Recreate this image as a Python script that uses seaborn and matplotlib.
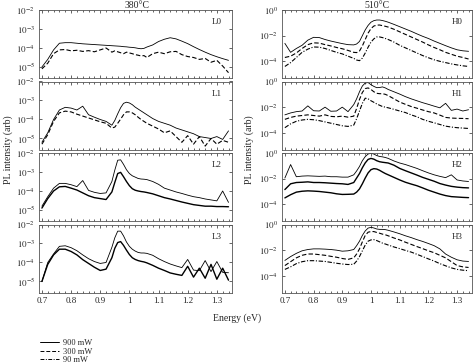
import matplotlib
matplotlib.use("Agg")
import matplotlib.pyplot as plt
import seaborn as sns
import numpy as np
from matplotlib.ticker import FixedLocator, MultipleLocator, NullLocator, FixedFormatter
from matplotlib.lines import Line2D

sns.set_style("ticks")
plt.rcParams["font.family"] = ["Liberation Serif", "DejaVu Serif"]
plt.rcParams["mathtext.fontset"] = "stix"

# photon energy grid (eV), denser around the main peak
energy = [0.70, 0.72, 0.74, 0.76, 0.78, 0.80, 0.82, 0.84, 0.86, 0.88, 0.90, 0.92, 0.94,
          0.95, 0.96, 0.97, 0.98, 0.99, 1.00, 1.01, 1.02, 1.03, 1.04, 1.05, 1.06,
          1.08, 1.10, 1.12, 1.14, 1.16, 1.18, 1.20, 1.22, 1.24, 1.26, 1.28, 1.30, 1.32, 1.34]

# log10 PL intensity, 380 C samples
L0_900 = [-5.0, -4.6, -4.1, -3.75, -3.72, -3.72, -3.75, -3.78, -3.8, -3.82, -3.84, -3.86, -3.88,
          -3.89, -3.9, -3.91, -3.93, -3.94, -3.96, -3.97, -3.99, -4.02, -4.04, -4.02, -3.95,
          -3.84, -3.66, -3.54, -3.46, -3.52, -3.64, -3.77, -3.93, -4.08, -4.22, -4.35, -4.46, -4.56, -4.65]
L0_300 = [-5.1, -4.8, -4.3, -4.1, -4.08, -4.15, -4.12, -4.18, -4.14, -4.2, -4.1, -4.0, -4.22,
          -4.15, -4.2, -4.25, -4.3, -4.22, -4.26, -4.3, -4.35, -4.38, -4.42, -4.4, -4.5,
          -4.3, -4.22, -4.3, -4.2, -4.18, -4.35, -4.45, -4.5, -4.6, -4.55, -4.75, -4.65, -4.95, -5.3]
L1_900 = [-5.2, -4.7, -4.0, -3.5, -3.36, -3.4, -3.5, -3.3, -3.75, -3.88, -4.0, -4.1, -4.3,
          -4.05, -3.7, -3.38, -3.15, -3.09, -3.13, -3.22, -3.35, -3.45, -3.55, -3.65, -3.75,
          -3.95, -4.1, -4.2, -4.3, -4.45, -4.55, -4.65, -4.75, -4.9, -4.95, -5.0, -4.9, -5.05, -4.6]
L1_300 = [-5.3, -4.8, -4.1, -3.65, -3.56, -3.6, -3.72, -3.82, -3.92, -4.02, -4.12, -4.2, -4.45,
          -4.4, -4.2, -3.98, -3.75, -3.6, -3.6, -3.65, -3.75, -3.88, -4.0, -4.1, -4.2,
          -4.35, -4.5, -4.7, -4.6, -4.9, -5.2, -4.85, -5.3, -4.9, -5.4, -5.0, -5.3, -5.1, -5.2]
L2_900 = [-4.8, -4.3, -3.85, -3.6, -3.6, -3.67, -3.77, -3.45, -3.97, -4.07, -4.13, -4.1, -3.5,
          -2.9, -2.38, -2.36, -2.6, -2.88, -3.08, -3.2, -3.27, -3.34, -3.37, -3.38, -3.4,
          -3.5, -3.65, -3.85, -3.95, -4.05, -4.13, -4.22, -4.3, -4.35, -4.42, -4.47, -4.52, -4.0, -4.6]
L2_300 = [-4.9, -4.4, -4.0, -3.78, -3.76, -3.85, -3.95, -4.1, -4.25, -4.35, -4.4, -4.45, -4.05,
          -3.55, -3.08, -3.02, -3.25, -3.5, -3.72, -3.88, -3.96, -4.0, -4.03, -4.05, -4.08,
          -4.15, -4.25, -4.35, -4.42, -4.5, -4.58, -4.65, -4.72, -4.76, -4.8, -4.8, -4.82, -4.82, -4.83]
L3_900 = [-5.0, -4.0, -3.55, -3.15, -3.12, -3.22, -3.38, -3.6, -3.8, -3.95, -4.05, -4.0, -3.2,
          -2.7, -2.35, -2.35, -2.6, -2.92, -3.15, -3.3, -3.4, -3.47, -3.5, -3.5, -3.52,
          -3.62, -3.8, -3.95, -4.08, -4.18, -4.27, -3.84, -4.4, -4.43, -3.9, -4.48, -3.95, -4.52, -4.54]
L3_300 = [-5.0, -4.1, -3.6, -3.3, -3.3, -3.42, -3.6, -3.85, -4.05, -4.25, -4.42, -4.35, -3.75,
          -3.25, -2.95, -2.9, -3.1, -3.35, -3.58, -3.75, -3.84, -3.9, -3.94, -3.97, -4.02,
          -4.15, -4.3, -4.42, -4.55, -4.62, -4.68, -4.2, -4.77, -4.3, -4.83, -4.1, -4.88, -4.3, -4.93]

# log10 PL intensity, 510 C samples
H0_900 = [-2.6, -3.3, -3.0, -2.75, -2.35, -2.13, -2.15, -2.3, -2.42, -2.52, -2.62, -2.7, -2.72,
          -2.65, -2.45, -2.0, -1.55, -1.2, -0.95, -0.83, -0.78, -0.78, -0.82, -0.88, -0.95,
          -1.12, -1.3, -1.48, -1.66, -1.86, -2.05, -2.22, -2.42, -2.6, -2.78, -2.95, -3.1, -3.18, -3.22]
H0_300 = [-3.7, -3.6, -3.35, -3.0, -2.7, -2.56, -2.58, -2.7, -2.8, -2.92, -3.02, -3.15, -3.3,
          -3.32, -3.2, -2.8, -2.3, -1.8, -1.45, -1.25, -1.18, -1.17, -1.22, -1.27, -1.33,
          -1.5, -1.7, -1.9, -2.1, -2.3, -2.5, -2.72, -2.92, -3.1, -3.3, -3.45, -3.6, -3.7, -3.82]
H0_90 = [-4.4, -4.1, -3.7, -3.3, -3.05, -2.88, -2.9, -3.0, -3.15, -3.3, -3.42, -3.6, -3.77,
         -3.9, -3.95, -3.75, -3.35, -2.9, -2.5, -2.25, -2.1, -2.1, -2.15, -2.22, -2.3,
         -2.5, -2.75, -2.95, -3.15, -3.35, -3.55, -3.72, -3.88, -4.0, -4.1, -4.2, -4.28, -4.35, -4.4]
H1_900 = [-2.6, -2.45, -2.35, -2.3, -1.9, -2.28, -2.3, -2.0, -2.32, -2.3, -2.0, -2.35, -1.8,
          -1.35, -0.8, -0.35, -0.12, -0.08, -0.25, -0.38, -0.48, -0.47, -0.42, -0.5, -0.62,
          -0.8, -0.98, -1.18, -1.35, -1.5, -1.65, -1.78, -1.92, -2.05, -1.7, -2.25, -2.15, -2.3, -2.2]
H1_300 = [-2.95, -2.8, -2.7, -2.65, -2.6, -2.65, -2.7, -2.6, -2.72, -2.75, -2.7, -2.78, -2.7,
          -2.1, -1.4, -0.85, -0.55, -0.5, -0.62, -0.8, -0.92, -0.95, -0.95, -1.0, -1.1,
          -1.35, -1.6, -1.78, -1.95, -2.08, -2.22, -2.35, -2.45, -2.62, -2.8, -2.85, -2.87, -2.88, -2.9]
H1_90 = [-3.6, -3.3, -3.1, -3.0, -2.95, -2.98, -3.05, -3.15, -3.25, -3.35, -3.45, -3.5, -3.4,
         -2.9, -2.3, -1.7, -1.3, -1.35, -1.5, -1.62, -1.75, -1.85, -1.95, -2.0, -2.05,
         -2.17, -2.3, -2.42, -2.6, -2.75, -2.95, -3.1, -3.22, -3.35, -3.48, -3.55, -3.6, -3.63, -3.66]
H2_900 = [-1.95, -0.9, -1.85, -1.8, -1.78, -1.8, -1.82, -1.8, -1.85, -1.85, -1.88, -1.88, -1.7,
          -1.4, -1.05, -0.6, -0.28, -0.08, -0.02, -0.08, -0.2, -0.27, -0.3, -0.35, -0.42,
          -0.62, -0.78, -0.9, -1.05, -1.2, -1.38, -1.55, -1.7, -1.82, -1.92, -1.7, -2.1, -2.18, -2.22]
H2_300 = [-2.85, -2.4, -2.3, -2.28, -2.25, -2.3, -2.3, -2.32, -2.35, -2.38, -2.4, -2.45, -2.3,
          -1.95, -1.6, -1.15, -0.77, -0.5, -0.42, -0.48, -0.6, -0.68, -0.72, -0.75, -0.78,
          -0.95, -1.2, -1.38, -1.55, -1.72, -1.9, -2.05, -2.2, -2.38, -2.5, -2.6, -2.66, -2.7, -2.72]
H2_90 = [-3.5, -3.25, -3.05, -2.98, -2.95, -2.97, -3.0, -3.05, -3.1, -3.18, -3.23, -3.22, -3.2,
         -3.05, -2.8, -2.4, -1.95, -1.55, -1.3, -1.22, -1.25, -1.35, -1.48, -1.6, -1.7,
         -1.9, -2.1, -2.28, -2.42, -2.55, -2.72, -2.9, -3.05, -3.2, -3.32, -3.4, -3.43, -3.46, -3.48]
H3_900 = [-2.8, -2.5, -2.25, -2.05, -1.95, -1.9, -1.9, -1.92, -1.95, -2.0, -2.08, -2.05, -1.95,
          -1.65, -1.3, -0.85, -0.5, -0.28, -0.22, -0.27, -0.35, -0.38, -0.38, -0.4, -0.45,
          -0.58, -0.72, -0.88, -1.02, -1.18, -1.32, -1.48, -1.65, -1.9, -2.3, -2.55, -2.75, -2.85, -2.88]
H3_300 = [-3.2, -2.9, -2.6, -2.4, -2.3, -2.3, -2.35, -2.4, -2.48, -2.55, -2.65, -2.72, -2.6,
          -2.3, -1.9, -1.35, -0.85, -0.6, -0.55, -0.55, -0.62, -0.68, -0.75, -0.8, -0.88,
          -1.05, -1.2, -1.38, -1.55, -1.72, -1.88, -2.05, -2.2, -2.4, -2.6, -2.9, -3.2, -3.3, -3.35]
H3_90 = [-3.5, -3.3, -3.05, -2.9, -2.82, -2.82, -2.85, -2.88, -2.95, -3.02, -3.08, -3.12, -3.1,
         -2.85, -2.5, -2.05, -1.6, -1.3, -1.2, -1.18, -1.25, -1.35, -1.45, -1.52, -1.6,
         -1.75, -1.88, -2.02, -2.15, -2.32, -2.5, -2.68, -2.85, -3.05, -3.22, -3.38, -3.5, -3.56, -3.6]

left_names = ["L0", "L1", "L2", "L3"]
right_names = ["H0", "H1", "H2", "H3"]
left_curves = [[L0_900, L0_300], [L1_900, L1_300], [L2_900, L2_300], [L3_900, L3_300]]
right_curves = [[H0_900, H0_300, H0_90], [H1_900, H1_300, H1_90],
                [H2_900, H2_300, H2_90], [H3_900, H3_300, H3_90]]
legend_labels = ["900 mW", "300 mW", "90 mW"]

solid = "-"
dashed = (0, (4, 2))
dashdot = (0, (4, 1.5, 1, 1.5))
# line styles per panel (the 380 C L2/L3 and 510 C H2 spectra are all solid)
left_styles = [[(solid, 0.6), (dashed, 0.8)], [(solid, 0.6), (dashed, 0.8)],
               [(solid, 0.6), (solid, 1.0)], [(solid, 0.6), (solid, 1.0)]]
right_styles = [[(solid, 0.6), (dashed, 0.8), (dashdot, 0.8)],
                [(solid, 0.6), (dashed, 0.8), (dashdot, 0.8)],
                [(solid, 0.6), (solid, 1.0), (solid, 1.0)],
                [(solid, 0.6), (dashed, 0.8), (dashdot, 0.8)]]

W, H = 474, 363
fig = plt.figure(figsize=(W / 100, H / 100), dpi=100)

row_tops = [10, 81.5, 153, 224.5]
row_h = 68
fs = 6.5


def style_axis(ax, bottom_row):
    ax.set_yscale("log")
    ax.set_xlim(0.69, 1.352)
    ax.xaxis.set_major_locator(MultipleLocator(0.1))
    ax.xaxis.set_minor_locator(MultipleLocator(0.02))
    ax.tick_params(which="both", direction="in", top=True, right=True,
                   labelsize=fs, length=2.5, width=0.5, pad=3)
    ax.tick_params(which="minor", length=1.5)
    ax.yaxis.set_minor_locator(NullLocator())
    if bottom_row:
        ax.xaxis.set_major_formatter(plt.FuncFormatter(lambda v, p: f"{v:g}"))
    else:
        ax.tick_params(labelbottom=False)
    for s in ax.spines.values():
        s.set_linewidth(0.6)
        s.set_color("#555555")
    ax.set_xlabel("")
    ax.set_ylabel("")


for i in range(4):
    bot = 1 - (row_tops[i] + row_h) / H
    axl = fig.add_axes([39 / W, bot, 193 / W, row_h / H])
    for vals, (ls, lw) in zip(left_curves[i], left_styles[i]):
        sns.lineplot(x=energy, y=10 ** np.array(vals), ax=axl, color="black",
                     linestyle=ls, linewidth=lw)
    style_axis(axl, i == 3)
    axl.set_ylim(10 ** -5.58, 1e-2)
    axl.yaxis.set_major_locator(FixedLocator([1e-5, 1e-4, 1e-3, 1e-2]))
    axl.yaxis.set_major_formatter(FixedFormatter(
        [r"$10^{-5}$", r"$10^{-4}$", r"$10^{-3}$", r"$10^{-2}$"]))
    axl.text(0.92, 0.82, left_names[i], transform=axl.transAxes, fontsize=fs,
             ha="center", va="center")

    axr = fig.add_axes([282 / W, bot, 190 / W, row_h / H])
    for vals, (ls, lw) in zip(right_curves[i], right_styles[i]):
        sns.lineplot(x=energy, y=10 ** np.array(vals), ax=axr, color="black",
                     linestyle=ls, linewidth=lw)
    style_axis(axr, i == 3)
    axr.set_ylim(10 ** -5.3, 1.0)
    axr.yaxis.set_major_locator(FixedLocator([1e-4, 1e-2, 1.0]))
    axr.yaxis.set_major_formatter(FixedFormatter(
        [r"$10^{-4}$", r"$10^{-2}$", r"$10^{0}$"]))
    axr.text(0.92, 0.82, right_names[i], transform=axr.transAxes, fontsize=fs,
             ha="center", va="center")

fig.text(137 / W, 1 - 5 / H, "380°C", ha="center", va="center", fontsize=7)
fig.text(377 / W, 1 - 5 / H, "510°C", ha="center", va="center", fontsize=7)
fig.text(8 / W, 1 - 150 / H, "PL intensity (arb)", rotation=90,
         ha="center", va="center", fontsize=7)
fig.text(249 / W, 1 - 150 / H, "PL intensity (arb)", rotation=90,
         ha="center", va="center", fontsize=7)
fig.text(237 / W, 1 - 318 / H, "Energy (eV)", ha="center", va="center", fontsize=7)

handles = [Line2D([], [], color="black", linestyle=solid, linewidth=0.7),
           Line2D([], [], color="black", linestyle=dashed, linewidth=0.7),
           Line2D([], [], color="black", linestyle=dashdot, linewidth=0.7)]
fig.legend(handles, legend_labels, loc="upper left",
           bbox_to_anchor=(36 / W, 1 - 335 / H), frameon=False, fontsize=6,
           handlelength=2.2, handletextpad=0.5, labelspacing=0.05,
           borderpad=0)

fig.savefig("out.png", dpi=100)
